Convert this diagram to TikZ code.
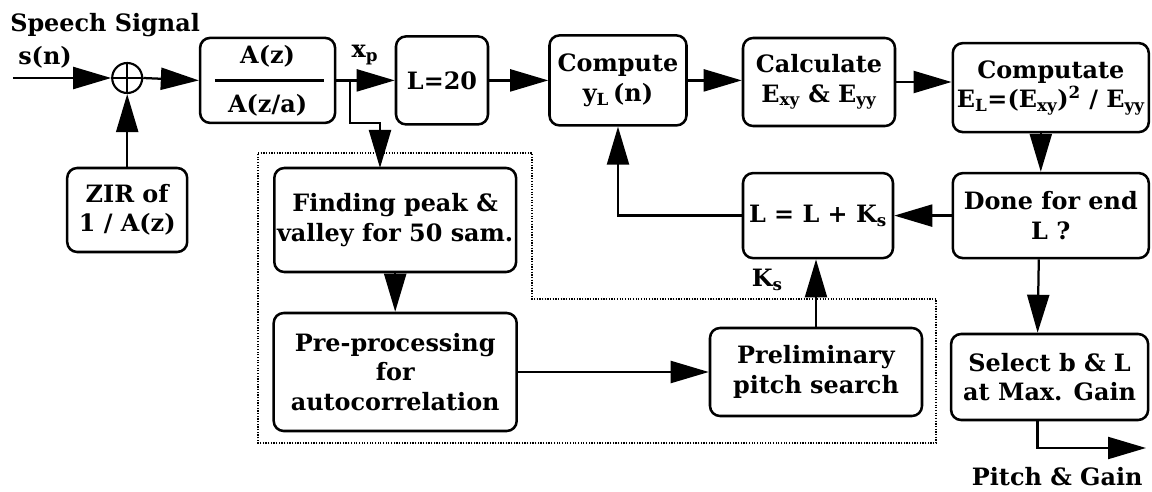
\documentclass[tikz,border=0pt]{standalone}
\usepackage{fontspec}
\setmainfont{DejaVu Serif}
\usetikzlibrary{arrows.meta, positioning, calc}
\tikzset{
	blocknode/.style={
			draw=black,
			line width=1.8pt,
			rounded corners=2.5mm,
			fill=white,
			align=center,
			inner sep=2pt
		},
	sumnode/.style={
			circle,
			draw=black,
			line width=1.5pt,
			minimum size=7.5mm,
			inner sep=0pt
		},
	labelnode/.style={
			inner sep=0pt
		},
	flowarrow/.style={
			line width=1.6pt,
			-{Triangle[length=9.5mm,width=5.5mm]}
		},
	flowline/.style={
			line width=1.6pt
		},
	groupline/.style={
			densely dotted,
			line width=0.9pt
		}
}

\begin{document}
\begin{tikzpicture}[font=\fontsize{17}{21}\selectfont\bfseries]
\useasboundingbox (0,0) rectangle (28.8,-12.3);

% dotted group round the pitch estimation
\draw[groupline] (6.45,-3.825) -- (13.3,-3.825) -- (13.3,-7.475) -- (23.4,-7.475)
  -- (23.4,-11.075) -- (6.45,-11.075) -- cycle;

\node[sumnode] (sum) at (3.18,-1.95) {};
\draw[flowline] (sum.north) -- (sum.south) (sum.west) -- (sum.east);

\node[blocknode, minimum width=3.375cm, minimum height=2.125cm] (afilt) at (6.69,-2.01) {A(z)\\[14pt]A(z/a)};
\draw[flowline] ([xshift=0.4cm]afilt.west) -- ([xshift=-0.3cm]afilt.east);
\node[blocknode, minimum width=3.0cm, minimum height=2.1cm] (zir) at (3.18,-5.25) {ZIR of\\1 / A(z)};
\node[blocknode, minimum width=2.3cm, minimum height=2.2cm] (l20) at (11.05,-2.01) {L=20};
\node[blocknode, minimum width=3.425cm, minimum height=2.25cm] (comp) at (15.45,-2.01) {Compute\\y\textsubscript{L}\,(n)};
\node[blocknode, minimum width=3.8cm, minimum height=2.2cm] (calc) at (20.475,-2.05) {Calculate\\E\textsubscript{xy} \& E\textsubscript{yy}};
\node[blocknode, minimum width=4.9cm, minimum height=2.225cm] (energy) at (26.27,-2.19) {Computate\\E\textsubscript{L}=(E\textsubscript{xy})\textsuperscript{2} / E\textsubscript{yy}};
\node[blocknode, minimum width=4.9cm, minimum height=2.125cm] (done) at (26.27,-5.39) {Done for end\\L ?};
\node[blocknode, minimum width=3.75cm, minimum height=2.125cm] (update) at (20.45,-5.39) {L = L + K\textsubscript{s}};
\node[blocknode, minimum width=6.0cm, minimum height=2.6cm] (peak) at (9.88,-5.5) {Finding peak \&\\valley for 50 sam.};
\node[blocknode, minimum width=6.075cm, minimum height=2.95cm] (prep) at (9.88,-9.3) {Pre-processing\\for\\autocorrelation};
\node[blocknode, minimum width=5.3cm, minimum height=2.2cm] (prelim) at (20.4,-9.3) {Preliminary\\pitch search};
\node[blocknode, minimum width=4.925cm, minimum height=2.15cm] (select) at (26.24,-9.425) {Select b \& L\\at Max. Gain};

\coordinate (speech) at (0.325,-1.95);
\coordinate (split) at (8.75,-2.01);
\coordinate (result) at (28.65,-11.2);

\node[labelnode, anchor=west] (speechlabel) at (0.25,-0.625) {Speech Signal};
\node[labelnode, anchor=west] (snlabel) at (0.45,-1.43) {s(n)};
\node[labelnode] (xplabel) at (9.125,-1.375) {x\textsubscript{p}};
\node[labelnode] (kslabel) at (19.18,-7.0) {K\textsubscript{s}};
\node[labelnode, anchor=base] (outlabel) at (26.43,-12.13) {Pitch \& Gain};

\draw[flowarrow] (speech) -- (sum.west);
\draw[flowarrow] (zir.north) -- (sum.south);
\draw[flowarrow] (sum.east) -- (afilt.west);
\draw[flowarrow] (afilt.east) -- (l20.west);
\draw[flowarrow] (split) -- ++(0,-1.065) -| (9.5,-4.2);
\draw[flowarrow] (l20.east) -- (l20.east -| comp.west);
\draw[flowarrow] (comp.east) -- (comp.east -| calc.west);
\draw[flowarrow] (calc.east) -- (calc.east -| energy.west);
\draw[flowarrow] ([xshift=-0.25cm]energy.south) -- ([xshift=-0.25cm]done.north);
\draw[flowarrow] (done.west) -- (update.east);
\draw[flowarrow] (update.west) -| (comp.south);
\draw[flowarrow] (peak.south) -- (prep.north);
\draw[flowarrow] (prep.east) -- (prelim.west);
\draw[flowarrow] (prelim.north) -- (prelim.north |- update.south);
\draw[flowarrow] ([xshift=-0.3cm]done.south) -- ([xshift=-0.3cm]select.north);
\draw[flowarrow] ([xshift=-0.3cm]select.south) |- (result);
\end{tikzpicture}
\end{document}
